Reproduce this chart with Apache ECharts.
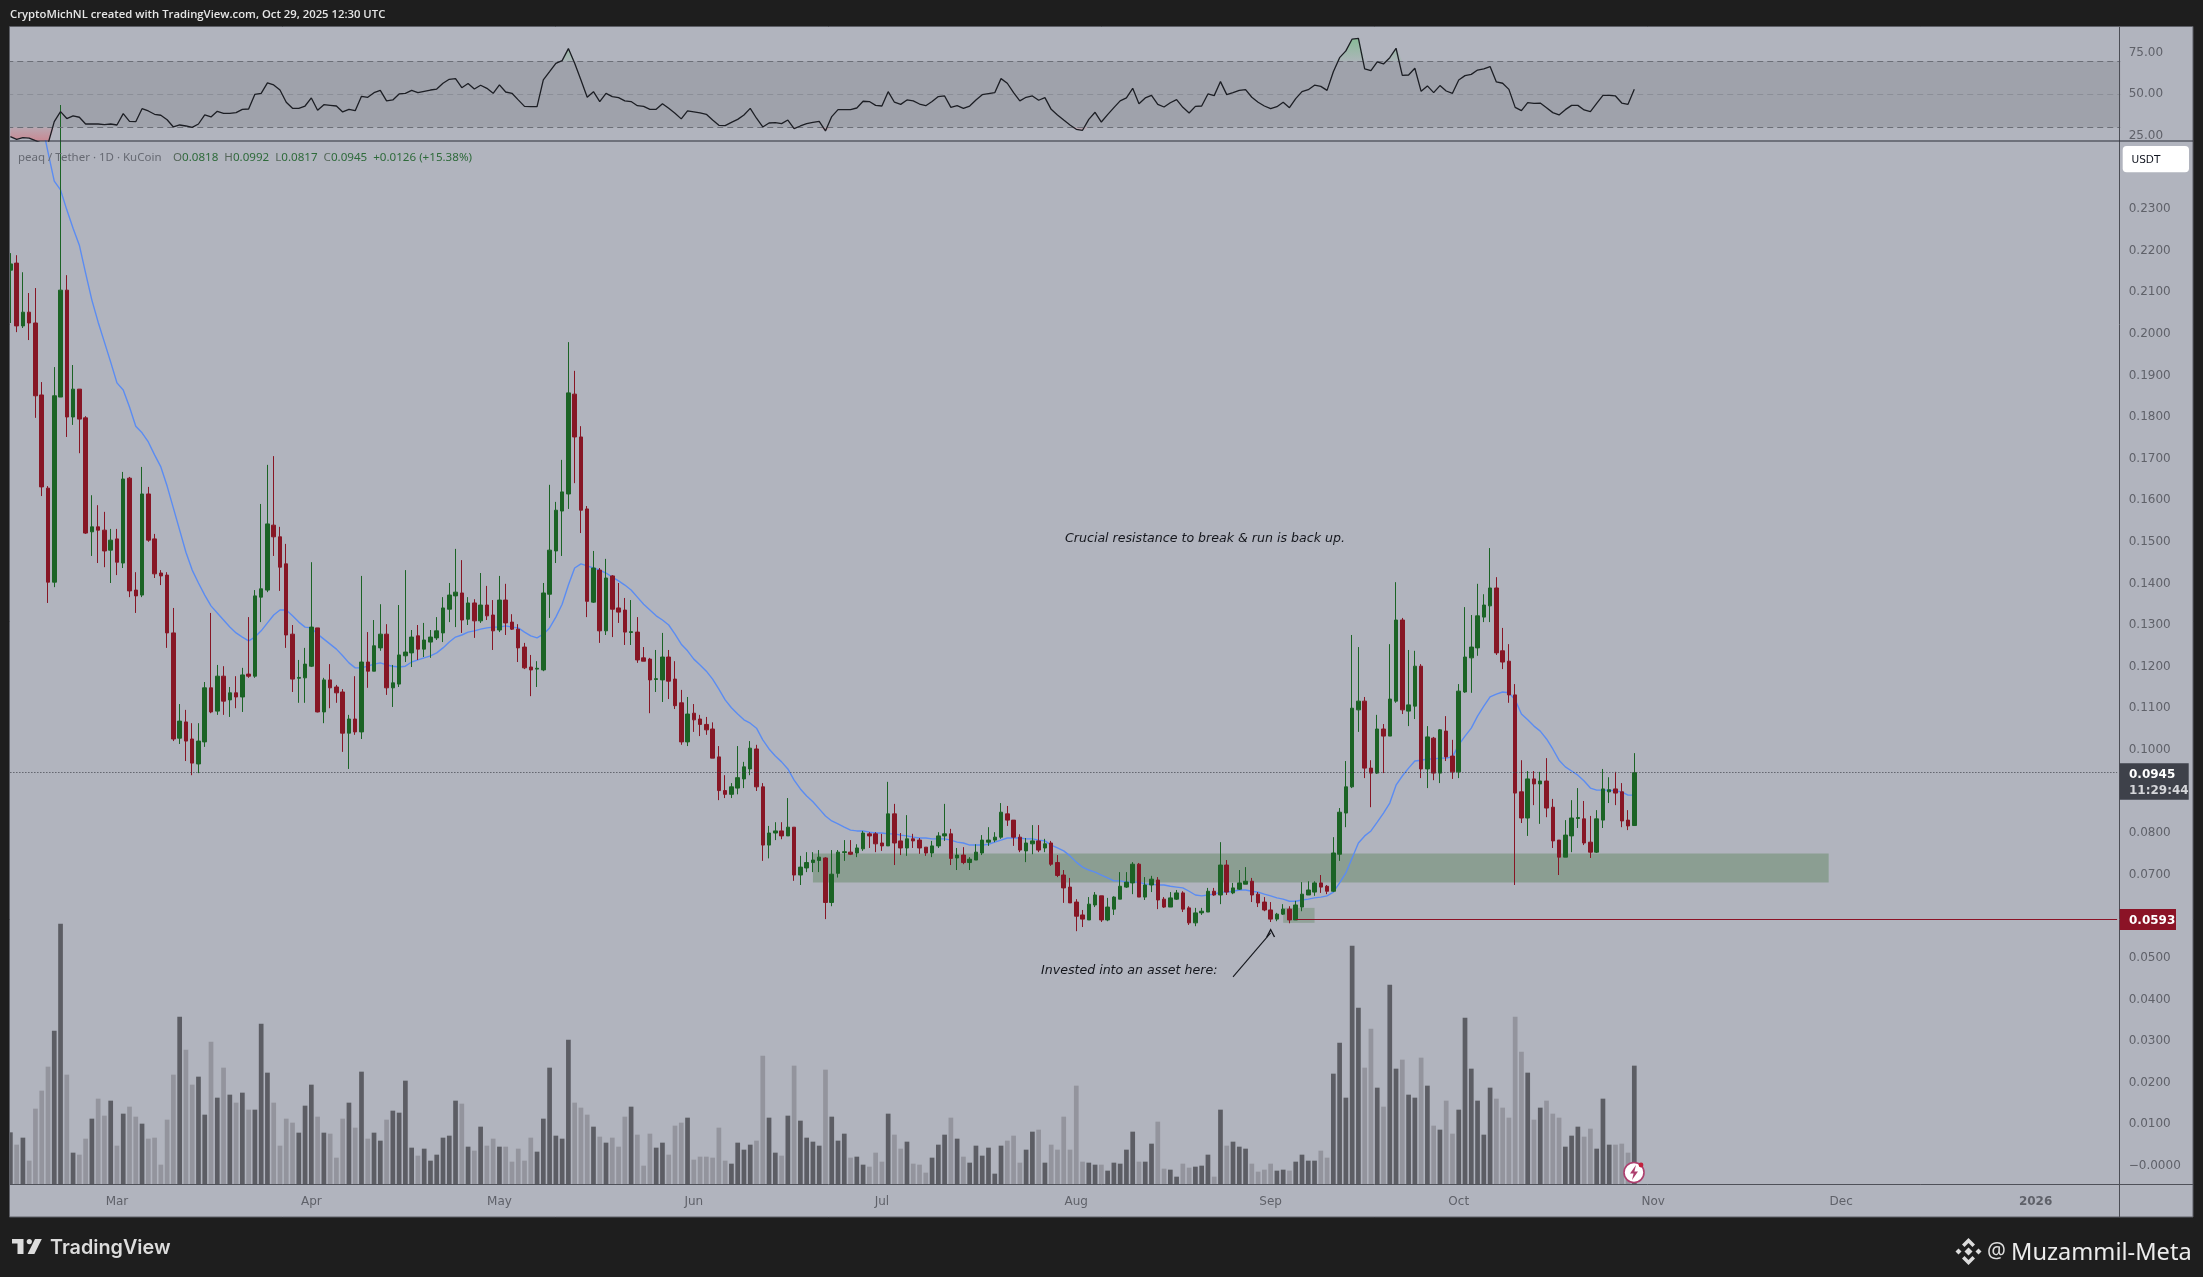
<!DOCTYPE html>
<html><head><meta charset="utf-8">
<style>html,body{margin:0;padding:0;background:#1e1e1e}#c{width:2203px;height:1277px}</style>
<script src="https://cdn.jsdelivr.net/npm/echarts@6/dist/echarts.min.js"></script>
</head><body><div id="c"></div>
<script>
const firstDay = '2025-02-12';
const bandCount = 337;
const monthLabels = {'2025-03-01':'Mar','2025-04-01':'Apr','2025-05-01':'May','2025-06-01':'Jun','2025-07-01':'Jul','2025-08-01':'Aug','2025-09-01':'Sep','2025-10-01':'Oct','2025-11-01':'Nov','2025-12-01':'Dec','2026-01-01':'2026'};
const priceTicks = [0.23,0.22,0.21,0.20,0.19,0.18,0.17,0.16,0.15,0.14,0.13,0.12,0.11,0.10,0.08,0.07,0.05,0.04,0.03,0.02,0.01,0];
const rsiTicks = [75,50,25];
const lastPrice = 0.0945;
const entryPrice = 0.0593;
const opens = [
.2153,.2170,.2019,.2052,.2026,.1853,.1629,.1403,.1848,.2105,
.1800,.1867,.1798,.1524,.1536,.1528,.1480,.1507,.1449,.1653,
.1384,.1372,.1615,.1507,.1425,.1420,.1281,.1028,.1067,.1026,
.0966,.1019,.1149,.1093,.1177,.1120,.1137,.1127,.1182,.1177,
.1367,.1384,.1540,.1512,.1447,.1278,.1172,.1173,.1201,.1293,
.1091,.1168,.1151,.1139,.1040,.1074,.1043,.1211,.1189,.1245,
.1278,.1149,.1158,.1226,.1233,.1274,.1242,.1259,.1269,.1281,
.1338,.1370,.1377,.1314,.1353,.1310,.1348,.1324,.1288,.1360,
.1307,.1290,.1247,.1199,.1194,.1192,.1374,.1478,.1574,.1615,
.1855,.1752,.1579,.1355,.1432,.1286,.1418,.1341,.1336,.1282,
.1283,.1221,.1218,.1169,.1168,.1223,.1170,.1113,.1019,.1088,
.1074,.1061,.1050,.0983,.0902,.0893,.0908,.0930,.0954,.1002,
.0911,.0771,.0800,.0805,.0793,.0814,.0699,.0716,.0729,.0734,
.0740,.0633,.0703,.0753,.0754,.0752,.0762,.0798,.0798,.0776,
.0769,.0846,.0781,.0764,.0786,.0783,.0766,.0752,.0769,.0793,
.0798,.0740,.0747,.0729,.0735,.0752,.0778,.0783,.0790,.0846,
.0831,.0790,.0757,.0774,.0781,.0764,.0776,.0729,.0699,.0670,
.0634,.0603,.0591,.0627,.0649,.0591,.0617,.0641,.0670,.0680,
.0725,.0646,.0675,.0687,.0641,.0622,.0641,.0656,.0620,.0584,
.0608,.0610,.0660,.0651,.0723,.0656,.0665,.0677,.0684,.0653,
.0634,.0615,.0593,.0605,.0617,.0591,.0622,.0651,.0658,.0680,
.0672,.0660,.0749,.0848,.0911,.1096,.1117,.0956,.0944,.1050,
.1033,.1117,.1312,.1093,.1105,.1201,.0954,.1028,.0944,.1045,
.0985,.0947,.1139,.1221,.1245,.1319,.1346,.1389,.1238,.1213,
.1132,.0899,.0836,.0930,.0918,.0925,.0862,.0783,.0742,.0793,
.0835,.0834,.0778,.0754,.0831,.0899,.0906,.0899,.0831,.0818];
const closes = [
.2168,.2019,.2052,.2026,.1851,.1632,.1403,.1851,.2105,.1800,
.1867,.1795,.1521,.1536,.1528,.1478,.1504,.1451,.1651,.1382,
.1370,.1615,.1504,.1423,.1418,.1281,.1026,.1069,.1021,.0968,
.1021,.1149,.1091,.1177,.1117,.1137,.1127,.1180,.1177,.1370,
.1387,.1543,.1512,.1439,.1276,.1170,.1174,.1206,.1295,.1091,
.1168,.1149,.1137,.1040,.1074,.1043,.1211,.1189,.1250,.1278,
.1149,.1161,.1228,.1235,.1271,.1242,.1264,.1271,.1286,.1341,
.1372,.1379,.1312,.1353,.1310,.1348,.1322,.1286,.1360,.1305,
.1290,.1245,.1197,.1192,.1196,.1377,.1480,.1576,.1620,.1858,
.1752,.1576,.1357,.1437,.1286,.1413,.1338,.1331,.1283,.1284,
.1216,.1213,.1168,.1171,.1223,.1165,.1106,.1019,.1086,.1072,
.1061,.1048,.0980,.0902,.0893,.0911,.0933,.0959,.1004,.0911,
.0771,.0800,.0805,.0793,.0814,.0699,.0718,.0729,.0735,.0742,
.0633,.0701,.0754,.0755,.0749,.0764,.0800,.0793,.0774,.0769,
.0846,.0776,.0764,.0786,.0781,.0764,.0752,.0769,.0793,.0798,
.0739,.0747,.0729,.0737,.0754,.0783,.0783,.0790,.0850,.0831,
.0790,.0759,.0776,.0781,.0759,.0774,.0725,.0698,.0668,.0632,
.0600,.0593,.0629,.0651,.0591,.0622,.0646,.0672,.0682,.0725,
.0646,.0675,.0689,.0639,.0622,.0644,.0656,.0617,.0584,.0608,
.0612,.0660,.0651,.0723,.0658,.0668,.0680,.0684,.0651,.0632,
.0615,.0593,.0605,.0617,.0591,.0627,.0653,.0663,.0680,.0670,
.0660,.0752,.0850,.0911,.1100,.1117,.0956,.0944,.1050,.1033,
.1122,.1312,.1096,.1108,.1201,.0954,.1031,.0944,.1048,.0983,
.0947,.1141,.1223,.1247,.1322,.1348,.1389,.1233,.1211,.1132,
.0896,.0836,.0930,.0918,.0925,.0860,.0781,.0742,.0795,.0836,
.0837,.0776,.0754,.0834,.0906,.0904,.0896,.0829,.0817,.0945];
const lows = [
.2026,.2004,.2014,.1985,.1798,.1610,.1353,.1391,.1848,.1752,
.1781,.1713,.1519,.1466,.1449,.1439,.1401,.1420,.1437,.1367,
.1329,.1367,.1500,.1413,.1396,.1245,.1021,.1014,.0973,.0939,
.0944,.1007,.1088,.1084,.1084,.1079,.1100,.1091,.1173,.1173,
.1307,.1379,.1466,.1382,.1245,.1139,.1113,.1113,.1199,.1090,
.1064,.1100,.1113,.0995,.0954,.1036,.1026,.1149,.1189,.1238,
.1132,.1103,.1151,.1211,.1199,.1216,.1223,.1221,.1264,.1259,
.1307,.1295,.1281,.1300,.1269,.1305,.1312,.1240,.1283,.1276,
.1288,.1211,.1194,.1129,.1151,.1189,.1317,.1449,.1466,.1579,
.1641,.1521,.1319,.1353,.1257,.1276,.1271,.1305,.1252,.1252,
.1209,.1213,.1088,.1139,.1115,.1122,.1098,.1012,.1009,.1043,
.1033,.1036,.0980,.0879,.0884,.0884,.0893,.0908,.0939,.0901,
.0733,.0739,.0783,.0785,.0793,.0685,.0675,.0706,.0706,.0706,
.0593,.0624,.0693,.0733,.0747,.0742,.0757,.0764,.0754,.0757,
.0769,.0723,.0747,.0745,.0764,.0750,.0745,.0742,.0764,.0781,
.0723,.0711,.0725,.0711,.0735,.0747,.0769,.0778,.0786,.0817,
.0769,.0754,.0730,.0749,.0754,.0754,.0721,.0694,.0632,.0632,
.0564,.0574,.0591,.0622,.0586,.0588,.0603,.0641,.0668,.0653,
.0646,.0639,.0658,.0617,.0620,.0622,.0639,.0610,.0579,.0576,
.0603,.0610,.0649,.0629,.0651,.0653,.0663,.0677,.0634,.0622,
.0612,.0586,.0588,.0603,.0583,.0591,.0612,.0651,.0649,.0656,
.0653,.0658,.0733,.0814,.0908,.1043,.0932,.0862,.0942,.0944,
.1033,.1113,.1086,.1057,.1074,.0932,.0908,.0927,.0920,.0973,
.0930,.0932,.1137,.1137,.1226,.1307,.1307,.1228,.1194,.1113,
.0675,.0824,.0793,.0867,.0822,.0838,.0764,.0699,.0742,.0754,
.0812,.0771,.0740,.0752,.0812,.0872,.0867,.0814,.0807,.0817];
const highs = [
.2194,.2189,.2148,.2098,.2110,.1884,.1634,.1920,.2550,.2141,
.1925,.1867,.1802,.1612,.1588,.1572,.1531,.1531,.1668,.1656,
.1427,.1680,.1632,.1519,.1432,.1427,.1341,.1110,.1096,.1064,
.1064,.1163,.1329,.1204,.1201,.1151,.1177,.1197,.1319,.1384,
.1591,.1685,.1706,.1536,.1495,.1300,.1216,.1245,.1451,.1293,
.1173,.1206,.1156,.1146,.1084,.1177,.1418,.1283,.1312,.1350,
.1302,.1204,.1348,.1432,.1288,.1300,.1305,.1288,.1319,.1367,
.1401,.1483,.1456,.1367,.1362,.1425,.1394,.1360,.1418,.1399,
.1326,.1302,.1257,.1228,.1213,.1401,.1637,.1596,.1697,.1980,
.1911,.1778,.1586,.1478,.1437,.1459,.1420,.1401,.1365,.1360,
.1319,.1247,.1221,.1240,.1281,.1240,.1213,.1144,.1127,.1110,
.1084,.1079,.1066,.1009,.0939,.0920,.1009,.0971,.1021,.1012,
.0920,.0817,.0826,.0826,.0884,.0814,.0745,.0754,.0754,.0759,
.0742,.0759,.0759,.0783,.0783,.0773,.0805,.0802,.0802,.0798,
.0923,.0870,.0800,.0843,.0798,.0788,.0766,.0781,.0802,.0870,
.0810,.0764,.0766,.0742,.0773,.0795,.0814,.0802,.0872,.0865,
.0831,.0797,.0788,.0819,.0819,.0786,.0781,.0747,.0711,.0692,
.0641,.0615,.0646,.0658,.0649,.0644,.0648,.0706,.0706,.0730,
.0728,.0694,.0697,.0694,.0646,.0658,.0663,.0660,.0624,.0620,
.0620,.0668,.0668,.0778,.0735,.0680,.0711,.0718,.0692,.0658,
.0646,.0634,.0608,.0629,.0624,.0637,.0682,.0684,.0684,.0699,
.0675,.0790,.0860,.0973,.1276,.1247,.1127,.0975,.1084,.1062,
.1254,.1403,.1317,.1240,.1238,.1206,.1057,.1031,.1050,.1081,
.1024,.1158,.1343,.1324,.1399,.1374,.1485,.1415,.1293,.1254,
.1158,.0975,.0949,.0949,.0947,.0980,.0882,.0783,.0831,.0879,
.0908,.0877,.0841,.0855,.0954,.0934,.0947,.0920,.0855,.0992];
const emaLine = [
null,null,null,null,null,.2509,.2437,.2367,.2346,.2298,
.2254,.2213,.2146,.2081,.2028,.1980,.1932,.1882,.1865,.1824,
.1778,.1762,.1740,.1709,.1680,.1634,.1581,.1528,.1475,.1432,
.1401,.1372,.1346,.1329,.1312,.1295,.1281,.1271,.1262,.1271,
.1286,.1305,.1324,.1336,.1336,.1322,.1307,.1295,.1293,.1278,
.1266,.1254,.1242,.1226,.1209,.1197,.1197,.1201,.1206,.1209,
.1204,.1201,.1199,.1201,.1211,.1216,.1221,.1226,.1233,.1245,
.1259,.1271,.1276,.1283,.1286,.1290,.1293,.1295,.1295,.1298,
.1295,.1293,.1283,.1274,.1269,.1278,.1293,.1319,.1350,.1396,
.1437,.1447,.1442,.1437,.1432,.1425,.1415,.1406,.1396,.1384,
.1367,.1350,.1336,.1322,.1312,.1300,.1278,.1254,.1238,.1218,
.1204,.1189,.1170,.1146,.1120,.1101,.1086,.1072,.1064,.1052,
.1024,.1002,.0985,.0971,.0954,.0927,.0906,.0889,.0875,.0858,
.0841,.0829,.0822,.0814,.0807,.0805,.0805,.0802,.0800,.0800,
.0798,.0798,.0795,.0793,.0790,.0788,.0788,.0786,.0786,.0786,
.0783,.0778,.0776,.0771,.0771,.0771,.0773,.0778,.0783,.0788,
.0788,.0788,.0786,.0786,.0783,.0781,.0771,.0764,.0757,.0745,
.0730,.0718,.0711,.0706,.0699,.0692,.0685,.0685,.0682,.0682,
.0682,.0677,.0677,.0675,.0675,.0672,.0670,.0668,.0660,.0651,
.0649,.0651,.0653,.0658,.0658,.0660,.0663,.0663,.0660,.0658,
.0653,.0649,.0644,.0641,.0636,.0636,.0639,.0641,.0644,.0646,
.0649,.0658,.0680,.0704,.0740,.0776,.0793,.0805,.0826,.0848,
.0872,.0915,.0937,.0956,.0973,.0975,.0978,.0978,.0980,.0980,
.0983,.1012,.1033,.1052,.1081,.1105,.1127,.1134,.1139,.1137,
.1120,.1086,.1072,.1057,.1045,.1026,.1002,.0975,.0959,.0949,
.0939,.0925,.0908,.0903,.0903,.0903,.0901,.0899,.0891,.0891];
const rsiValues = [
24.3,22.7,23.7,23.5,21.9,20.3,19.9,33.4,39.5,35.3,
36.9,36.1,32.0,32.0,32.0,31.6,32.0,31.4,38.3,33.6,
33.4,41.3,39.9,37.9,37.3,34.6,30.2,31.4,30.8,30.0,
32.0,37.5,36.3,39.7,38.5,38.5,38.9,40.9,41.1,50.0,
50.6,56.9,55.7,52.6,45.2,41.5,41.5,42.9,47.8,40.3,
43.7,43.3,42.9,39.3,40.9,40.1,48.8,48.2,51.0,52.4,
46.0,46.6,50.2,50.6,52.4,51.0,51.8,52.6,53.2,56.7,
59.1,59.5,54.0,56.5,53.2,55.5,53.6,50.6,55.7,51.4,
50.6,46.6,42.7,42.5,42.5,58.7,63.7,68.8,70.4,77.7,
68.8,58.7,48.2,51.6,45.6,50.6,48.6,48.0,46.0,45.6,
43.1,42.7,40.9,40.9,44.3,41.5,38.5,35.1,39.9,39.3,
38.7,37.9,34.4,31.2,31.0,33.0,34.8,37.5,41.5,35.5,
30.2,32.6,32.8,32.2,34.4,29.2,30.8,32.2,33.0,33.6,
27.8,36.5,40.7,40.7,40.7,41.7,45.8,45.6,43.3,42.9,
51.6,45.2,43.9,46.6,46.0,44.1,43.1,45.6,48.6,49.0,
42.1,43.1,41.5,42.9,46.6,49.8,50.4,51.0,59.5,56.7,
51.0,46.0,48.2,49.0,46.4,48.0,40.9,37.5,34.4,31.4,
28.8,28.2,34.8,39.1,33.2,37.7,41.9,46.0,47.8,53.6,
44.3,47.8,49.4,43.9,42.3,44.9,46.8,42.1,38.7,42.7,
42.9,50.2,49.2,57.7,49.8,51.0,52.4,52.8,48.2,45.2,
42.9,41.3,42.5,45.2,41.9,47.4,51.6,52.8,55.5,54.8,
52.4,63.7,72.2,76.3,83.5,83.9,65.4,64.3,69.6,68.4,
72.2,77.9,61.5,61.7,65.8,51.8,55.1,51.0,55.3,52.0,
50.6,58.7,61.3,62.1,64.7,65.4,66.8,57.5,56.7,53.0,
42.1,40.1,44.9,44.5,44.7,41.9,38.9,37.5,40.7,43.3,
43.3,40.5,39.5,44.5,49.4,49.4,49.0,44.7,43.9,53.0];
const volumes = [
158,121,142,73,229,283,355,463,784,331,
97,91,139,199,259,208,253,118,214,235,
205,184,139,142,61,196,331,505,406,301,
325,211,430,262,352,271,247,277,226,226,
484,337,247,118,199,187,157,238,301,205,
157,154,82,199,247,172,340,139,157,133,
196,223,217,313,112,88,109,73,91,142,
148,253,244,115,103,175,118,139,115,115,
70,109,73,142,100,199,352,148,139,436,
247,232,211,175,145,127,142,115,205,235,
151,58,154,112,127,91,178,187,202,76,
85,85,82,172,73,64,127,106,121,133,
388,202,97,88,208,358,193,142,130,118,
346,205,133,154,82,85,61,55,97,70,
214,151,109,130,64,61,37,82,121,151,
202,139,85,67,118,88,112,34,118,133,
148,67,106,160,166,67,121,106,205,106,
298,70,67,61,61,43,67,64,106,160,
70,70,124,190,49,46,25,64,52,55,
58,91,25,226,118,130,115,109,64,40,
46,64,43,46,43,70,91,73,73,103,
82,334,427,262,718,532,352,469,292,235,
601,349,376,271,262,382,298,178,166,253,
154,226,502,349,253,151,292,259,232,202,
505,400,337,196,232,253,214,202,115,148,
175,145,169,109,259,121,121,124,97,358];

const categories = [];
{ const t0 = Date.parse(firstDay+'T00:00:00Z');
  for (let i=0;i<bandCount;i++) categories.push(new Date(t0+i*86400000).toISOString().slice(0,10)); }
const candleData = opens.map((o,i)=>[o,closes[i],lows[i],highs[i]]);
const volumeData = volumes.map((v,i)=>({value:v,itemStyle:{color:closes[i]>=opens[i]?'#5c5d64':'#93949d'}}));

const UP='#1b6325', DOWN='#871625', PANEL='#b1b4be', DARK='#1e1e1e', AX='#5f6169';
const FONT='"DejaVu Sans"';
const chart = echarts.init(document.getElementById('c'),null,{renderer:'canvas'});
const G = echarts.graphic;
function txt(x,y,t,o){return Object.assign({type:'text',silent:true,z:60,style:Object.assign({x:x,y:y,text:t,fontFamily:FONT,fontSize:12,fill:'#000',verticalAlign:'middle',align:'left'},o||{})});}
function rect(x,y,w,h,fill,z,r,stroke){return {type:'rect',silent:true,z:z,shape:{x:x,y:y,width:w,height:h,r:r||0},style:{fill:fill,stroke:stroke||null,lineWidth:stroke?1:0}};}
function line(x1,y1,x2,y2,c,w,z){return {type:'line',silent:true,z:z||55,shape:{x1:x1,y1:y1,x2:x2,y2:y2},style:{stroke:c,lineWidth:w||1}};}
function poly(pts,fill,z){return {type:'polygon',silent:true,z:z||60,shape:{points:pts},style:{fill:fill}};}
const LG='#dcdcdc';
const graphics=[
 rect(0,0,2203,1277,DARK,-20),
 rect(10,27,2183,1190,PANEL,-10),
 rect(0,20,9.5,1210,DARK,50),
 rect(9.5,26.5,2183.5,1190.5,'transparent',55,0,'#5d5f66'),
 line(2119.5,27,2119.5,1217,'#4c4e56',1),
 line(10,141,2193,141,'#2c2f38',1.2),
 line(10,1184.5,2193,1184.5,'#4f5159',1),
 txt(10,15,'CryptoMichNL created with TradingView.com, Oct 29, 2025 12:30 UTC',{fontFamily:'"Open Sans"',fontSize:11.3,fontWeight:600,fill:'#e6e6e6'}),
 txt(18,157.5,'peaq / Tether · 1D · KuCoin',{fontFamily:'"Noto Sans"',fontSize:11.5,fill:'#666972'}),
 txt(173,157.5,'{a|O}{b|0.0818}  {a|H}{b|0.0992}  {a|L}{b|0.0817}  {a|C}{b|0.0945}  {b|+0.0126 (+15.38%)}',{fontFamily:'"Noto Sans"',fontSize:11.6,fill:'#2e6a3a',rich:{a:{fill:'#56675a',fontFamily:'"Noto Sans"',fontSize:11.6},b:{fill:'#2e6a3a',fontFamily:'"Noto Sans"',fontSize:11.6}}}),
 rect(2122.7,146,66.3,26.3,'#ffffff',58,4),
 txt(2131.5,160,'USDT',{fontSize:10.5,fill:'#131722'}),
 rect(2119.7,763.3,69,36.4,'#3e414a',58),
 txt(2129,775,'0.0945',{fontSize:12,fontWeight:'bold',fill:'#fff'}),
 txt(2129,791,'11:29:44',{fontSize:12,fontWeight:'bold',fill:'#d5d6da'}),
 rect(2119.7,909,56.3,21,'#8b1326',58),
 txt(2129,920.5,'0.0593',{fontSize:12,fontWeight:'bold',fill:'#fff'}),
 txt(1065,539,'Crucial resistance to break & run is back up.',{fontSize:12.6,fontStyle:'italic',fill:'#14161c'}),
 txt(1041,971,'Invested into an asset here:',{fontSize:12.6,fontStyle:'italic',fill:'#14161c'}),
 {type:'circle',silent:true,z:60,shape:{cx:1634,cy:1172.5,r:10},style:{fill:'#fff',stroke:'#ad3f6e',lineWidth:1.6}},
 poly([[1636,1165],[1630,1173.5],[1633.6,1173.5],[1632,1180],[1638,1171.5],[1634.4,1171.5]],'#ad3f6e',61),
 {type:'circle',silent:true,z:62,shape:{cx:1641,cy:1165,r:2.4},style:{fill:'#c2203c'}},
 poly([[12,1239],[23.5,1239],[23.5,1254],[17.5,1254],[17.5,1243.5],[12,1243.5]],LG),
 {type:'circle',silent:true,z:60,shape:{cx:29.3,cy:1241.6,r:2.6},style:{fill:LG}},
 poly([[35,1239],[41.8,1239],[34.4,1254],[27.6,1254]],LG),
 txt(50,1248.5,'TradingView',{fontFamily:'Inter',fontSize:19.8,fontWeight:600,fill:LG}),
 poly([[1968.5,1238],[1975,1244.5],[1972.5,1247],[1968.5,1243],[1964.5,1247],[1962,1244.5]],LG),
 poly([[1968.5,1265],[1975,1258.5],[1972.5,1256],[1968.5,1260],[1964.5,1256],[1962,1258.5]],LG),
 poly([[1968.5,1247.5],[1972.5,1251.5],[1968.5,1255.5],[1964.5,1251.5]],LG),
 poly([[1958.5,1248.5],[1961.5,1251.5],[1958.5,1254.5],[1955.5,1251.5]],LG),
 poly([[1978.5,1248.5],[1981.5,1251.5],[1978.5,1254.5],[1975.5,1251.5]],LG),
 txt(1987,1252,'@',{fontFamily:'"Noto Sans"',fontSize:21,fill:LG}),
 txt(2011,1253.5,'Muzammil-Meta',{fontFamily:'"Noto Sans"',fontSize:23.6,fill:'#ececec'})
];

const option={
 animation:false,
 backgroundColor:'transparent',
 graphic:graphics,
 grid:[
  {left:7.235,top:27,width:2112.99,height:114,containLabel:false},
  {left:7.235,top:141,width:2112.99,height:1044,containLabel:false}
 ],
 xAxis:[
  {type:'category',gridIndex:0,data:categories,show:false,boundaryGap:true},
  {type:'category',gridIndex:1,data:categories,boundaryGap:true,
   axisLine:{show:false},axisTick:{show:false},splitLine:{show:false},
   axisLabel:{margin:10.5,color:AX,fontFamily:FONT,fontSize:12,
     interval:(i,v)=>v in monthLabels,
     formatter:(v)=>{const t=monthLabels[v]||''; return t==='2026'?'{y|2026}':t;},
     rich:{y:{fontWeight:'bold',color:AX,fontFamily:FONT,fontSize:12}}}}
 ],
 yAxis:[
  {type:'value',gridIndex:0,position:'right',min:21.70,max:90.79,
   axisLine:{show:false},axisTick:{show:false},splitLine:{show:false},
   axisLabel:{customValues:rsiTicks,margin:8.5,color:AX,fontFamily:FONT,fontSize:12,padding:[2,0,0,0],formatter:v=>v.toFixed(2)}},
  {type:'value',gridIndex:1,position:'right',min:-0.004615,max:0.24635,
   axisLine:{show:false},axisTick:{show:false},splitLine:{show:false},
   axisLabel:{customValues:priceTicks,margin:8.5,color:AX,fontFamily:FONT,fontSize:12,padding:[3,0,0,0],
     formatter:v=>v===0?'\u22120.0000':v.toFixed(4)}},
  {type:'value',gridIndex:1,position:'left',min:0,max:3132,show:false,splitLine:{show:false}}
 ],
 series:[
  {name:'RSI band',type:'line',xAxisIndex:0,yAxisIndex:0,data:rsiValues,z:1,symbol:'none',lineStyle:{width:0},silent:true,
   markArea:{silent:true,itemStyle:{color:'#9fa2ab'},data:[[{yAxis:30},{yAxis:70}]]},
   markLine:{silent:true,symbol:'none',label:{show:false},animation:false,
    data:[
     {yAxis:70,lineStyle:{color:'#6c6f77',type:[6,4],width:1}},
     {yAxis:50,lineStyle:{color:'#8b8e97',type:[6,4],width:1}},
     {yAxis:30,lineStyle:{color:'#6c6f77',type:[6,4],width:1}}]}},
  {name:'RSI oversold',type:'line',xAxisIndex:0,yAxisIndex:0,data:rsiValues.map(v=>Math.min(v,30)),z:2,symbol:'none',lineStyle:{width:0},silent:true,
   areaStyle:{origin:30,opacity:1,color:new G.LinearGradient(0,127,0,141,[{offset:0,color:'rgba(205,130,140,0.25)'},{offset:1,color:'rgba(205,130,140,0.85)'}],true)}},
  {name:'RSI overbought',type:'line',xAxisIndex:0,yAxisIndex:0,data:rsiValues.map(v=>Math.max(v,70)),z:2,symbol:'none',lineStyle:{width:0},silent:true,
   areaStyle:{origin:70,opacity:1,color:new G.LinearGradient(0,35,0,61,[{offset:0,color:'rgba(120,190,135,0.8)'},{offset:1,color:'rgba(120,190,135,0.1)'}],true)}},
  {name:'RSI',type:'line',xAxisIndex:0,yAxisIndex:0,data:rsiValues,z:5,symbol:'none',lineStyle:{color:'#1c1e24',width:1.3},silent:true},
  {name:'Volume',type:'bar',xAxisIndex:1,yAxisIndex:2,data:volumeData,barWidth:4.7,z:2,silent:true},
  {name:'EMA',type:'line',xAxisIndex:1,yAxisIndex:1,data:emaLine,z:3,symbol:'none',lineStyle:{color:'#5b8cf2',width:1.4},silent:true,connectNulls:false},
  {name:'PEAQUSDT',type:'candlestick',xAxisIndex:1,yAxisIndex:1,data:candleData,barWidth:4,z:4,silent:true,
   itemStyle:{color:UP,color0:DOWN,borderColor:UP,borderColor0:DOWN,borderWidth:1},
   markArea:{silent:true,z:1,data:[
     [{coord:[categories[128],0.0751],itemStyle:{color:'rgba(85,128,85,0.42)'}},{coord:[categories[290],0.0681]}],
     [{coord:[categories[203],0.0620],itemStyle:{color:'rgba(85,128,85,0.35)'}},{coord:[categories[208],0.0584]}]
   ]},
   markLine:{silent:true,symbol:'none',label:{show:false},animation:false,data:[
     [{coord:[categories[0],lastPrice],lineStyle:{color:'#3a3d46',type:[1,2],width:1}},{coord:[categories[336],lastPrice]}],
     [{coord:[categories[205],entryPrice],lineStyle:{color:'#8b1326',type:'solid',width:1.2}},{coord:[categories[336],entryPrice]}],
     [{coord:[categories[195],0.0454],symbol:'none',lineStyle:{color:'#14161c',type:'solid',width:1.1}},
      {coord:[categories[201],0.0560],symbol:'path://M5 0 L10 10 L8.6 10.6 L5 3.2 L1.4 10.6 L0 10 Z',symbolSize:9,symbolRotate:0}]
   ]}}
 ]
};
chart.setOption(option);
</script></body></html>
